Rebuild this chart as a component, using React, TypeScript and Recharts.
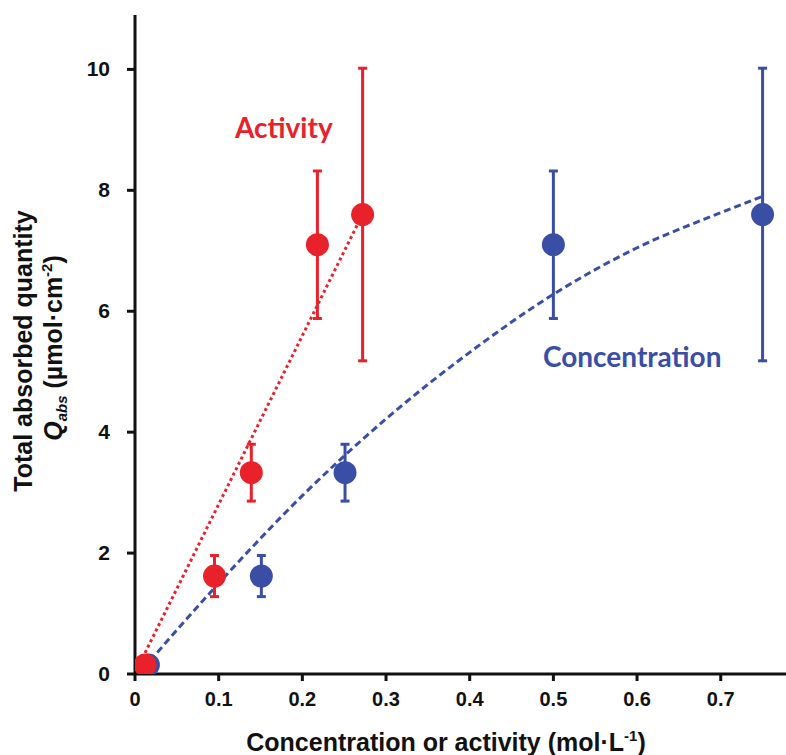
import React from "react";
import {
  ComposedChart,
  ErrorBar,
  Line,
  Scatter,
  XAxis,
  YAxis
} from "recharts";

// measured points (same Q for both series, only the x changes)
const activityX = [0.012, 0.095, 0.139, 0.218, 0.272];
const concentrationX = [0.016, 0.151, 0.251, 0.5, 0.75];
const qValues = [0.15, 1.62, 3.33, 7.1, 7.6];
const qErrors = [0, 0.34, 0.47, 1.22, 2.42];

// trend lines
const activityTrendX = [0.012, 0.27];
const activityTrendY = [0.35, 7.55];
const concTrendX = [0.018, 0.1, 0.2, 0.3, 0.4, 0.5, 0.6, 0.7, 0.75];
const concTrendY = [0.22, 1.5, 2.95, 4.22, 5.32, 6.28, 7.05, 7.63, 7.9];

const xTicks = [0, 0.1, 0.2, 0.3, 0.4, 0.5, 0.6, 0.7];
const yTicks = [0, 2, 4, 6, 8, 10];

const RED = "#e8212b";
const BLUE = "#3a4ea6";
const SANS = "'Liberation Sans', Arial, sans-serif";

const activity = activityX.map((x, i) => ({ x, y: qValues[i], err: qErrors[i] }));
const concentration = concentrationX.map((x, i) => ({ x, y: qValues[i], err: qErrors[i] }));
const activityTrend = activityTrendX.map((x, i) => ({ x, y: activityTrendY[i] }));
const concTrend = concTrendX.map((x, i) => ({ x, y: concTrendY[i] }));

const dotShape = (color: string) => (p: any) =>
  <circle cx={p.cx} cy={p.cy} r={11.5} fill={color} />;

const XTick = (p: any) => (
  <text x={p.x} y={p.y + 17} textAnchor="middle" fontFamily={SANS} fontWeight={700} fontSize={20} fill="#111">
    {p.payload.value}
  </text>
);

const YTick = (p: any) => (
  <text x={p.x - 1} y={p.y + 7} textAnchor="end" fontFamily={SANS} fontWeight={700} fontSize={21} fill="#111">
    {p.payload.value}
  </text>
);

export default function App() {
  return (
    <div style={{ position: "absolute", left: 0, top: 0, width: 786, height: 755, background: "#fff" }}>
      <ComposedChart width={786} height={755} margin={{ top: 15, right: 0, bottom: 21, left: 75 }}>
        <XAxis
          type="number"
          dataKey="x"
          domain={[0, 0.778]}
          ticks={xTicks}
          allowDataOverflow
          height={60}
          tickSize={7}
          tickMargin={8}
          tick={XTick}
          axisLine={{ stroke: "#111", strokeWidth: 3 }}
          tickLine={{ stroke: "#111", strokeWidth: 3 }}
        />
        <YAxis
          type="number"
          dataKey="y"
          domain={[0, 10.9]}
          ticks={yTicks}
          allowDataOverflow
          width={60}
          tickSize={8}
          tickMargin={16}
          tick={YTick}
          axisLine={{ stroke: "#111", strokeWidth: 3 }}
          tickLine={{ stroke: "#111", strokeWidth: 3 }}
        />
        <Line
          data={concTrend}
          dataKey="y"
          type="monotone"
          stroke={BLUE}
          strokeWidth={3}
          strokeDasharray="7 4"
          dot={false}
          activeDot={false}
          isAnimationActive={false}
        />
        <Line
          data={activityTrend}
          dataKey="y"
          type="linear"
          stroke={RED}
          strokeWidth={3}
          strokeDasharray="3 3"
          dot={false}
          activeDot={false}
          isAnimationActive={false}
        />
        <Scatter data={concentration} dataKey="y" shape={dotShape(BLUE)} isAnimationActive={false}>
          <ErrorBar dataKey="err" direction="y" width={4.5} strokeWidth={3} stroke={BLUE} />
        </Scatter>
        <Scatter data={activity} dataKey="y" shape={dotShape(RED)} isAnimationActive={false}>
          <ErrorBar dataKey="err" direction="y" width={4.5} strokeWidth={3} stroke={RED} />
        </Scatter>
      </ComposedChart>
      <svg width={786} height={755} style={{ position: "absolute", left: 0, top: 0, pointerEvents: "none" }}>
        <g fontFamily={SANS} fontWeight={700} fill="#111" fontSize={25}>
          <text transform="translate(32,351) rotate(-90)" textAnchor="middle">Total absorbed quantity</text>
          <text transform="translate(62,348) rotate(-90)" textAnchor="middle">
            <tspan fontStyle="italic">Q</tspan>
            <tspan fontStyle="italic" fontSize={15} dy={5}>abs</tspan>
            <tspan dy={-5}> (µmol·cm</tspan>
            <tspan fontSize={15} dy={-10}>-2</tspan>
            <tspan dy={10}>)</tspan>
          </text>
          <text x={446} y={751} textAnchor="middle">
            Concentration or activity (mol·L
            <tspan fontSize={15} dy={-10}>-1</tspan>
            <tspan dy={10}>)</tspan>
          </text>
        </g>
        <g fontFamily="Lato, 'Open Sans', sans-serif" fontWeight={700} fontSize={28}>
          <text x={235} y={138} fill={RED}>Activity</text>
          <text x={543} y={367} fill={BLUE}>Concentration</text>
        </g>
      </svg>
    </div>
  );
}
